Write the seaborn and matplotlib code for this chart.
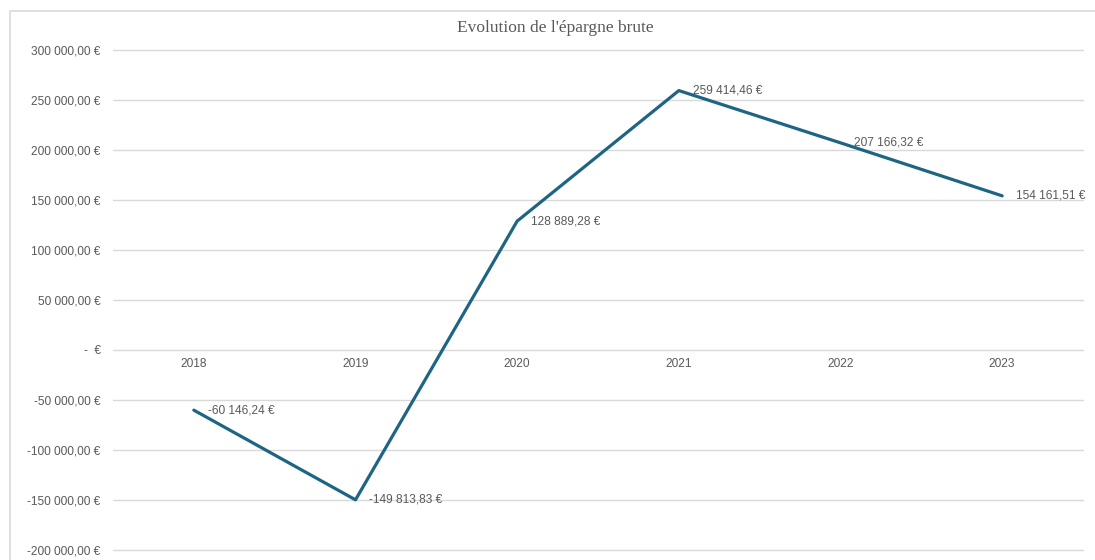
import numpy as np
import pandas as pd
import matplotlib
matplotlib.use('Agg')
import matplotlib.pyplot as plt
import seaborn as sns
from matplotlib.patches import Rectangle
from matplotlib.ticker import FuncFormatter

years = ['2018', '2019', '2020', '2021', '2022', '2023']
epargne = [-60146.24, -149813.83, 128889.28, 259414.46, 207166.32, 154161.51]
y_ticks = [-200000, -150000, -100000, -50000, 0, 50000, 100000, 150000, 200000, 250000, 300000]

sns.set_theme(style='white')
plt.rcParams['font.family'] = ['Liberation Sans', 'DejaVu Sans']

line_color = '#1d6583'
text_color = '#595959'
grid_color = '#d9d9d9'


def euro(v):
    # French accounting format
    if v == 0:
        return '-  €'
    s = '{:,.2f}'.format(abs(v)).replace(',', ' ').replace('.', ',')
    return ('-' if v < 0 else '') + s + ' €'


df = pd.DataFrame({'pos': np.arange(len(years)), 'annee': years, 'valeur': epargne})

fig = plt.figure(figsize=(10.95, 5.6), dpi=100)
ax = fig.add_axes([113/1095, 1 - 550/560, (1083-113)/1095, 500/560])

# light frame around the chart area
fig.patches.append(Rectangle((10/1095, -0.1), 1.2, 1 - 11/560 + 0.1, transform=fig.transFigure,
                             fill=False, edgecolor='#d9d9d9', lw=1.2))

sns.lineplot(data=df, x='pos', y='valeur', ax=ax, color=line_color, lw=2.3)

ax.set_xlim(-0.5, len(years) - 0.5)
ax.set_ylim(-200000, 300000)
ax.set_yticks(y_ticks)
ax.yaxis.set_major_formatter(FuncFormatter(lambda v, p: euro(v)))
ax.tick_params(axis='y', length=0, pad=9, labelsize=8.6, labelcolor=text_color)
ax.set_xticks([])
ax.set_xlabel('')
ax.set_ylabel('')
ax.yaxis.grid(True, color=grid_color, lw=1)
for gl in ax.get_ygridlines():
    gl.set_clip_on(False)
ax.set_axisbelow(True)
for s in ax.spines.values():
    s.set_visible(False)

# category labels sit just under the zero line
for i, yr in enumerate(years):
    ax.annotate(yr, (i, 0), xytext=(0, -10), textcoords='offset points',
                ha='center', va='center', fontsize=8.6, color=text_color)

# data labels to the right of each point
for i, v in enumerate(epargne):
    ax.annotate(euro(v), (i, v), xytext=(10, 0), textcoords='offset points',
                ha='left', va='center', fontsize=8.6, color=text_color)

fig.text(555/1095, 1 - 28/560, "Evolution de l'épargne brute", ha='center', va='center',
         fontsize=12.5, color=text_color, family=['Liberation Serif', 'DejaVu Serif'])

fig.savefig('out.png', dpi=100)
